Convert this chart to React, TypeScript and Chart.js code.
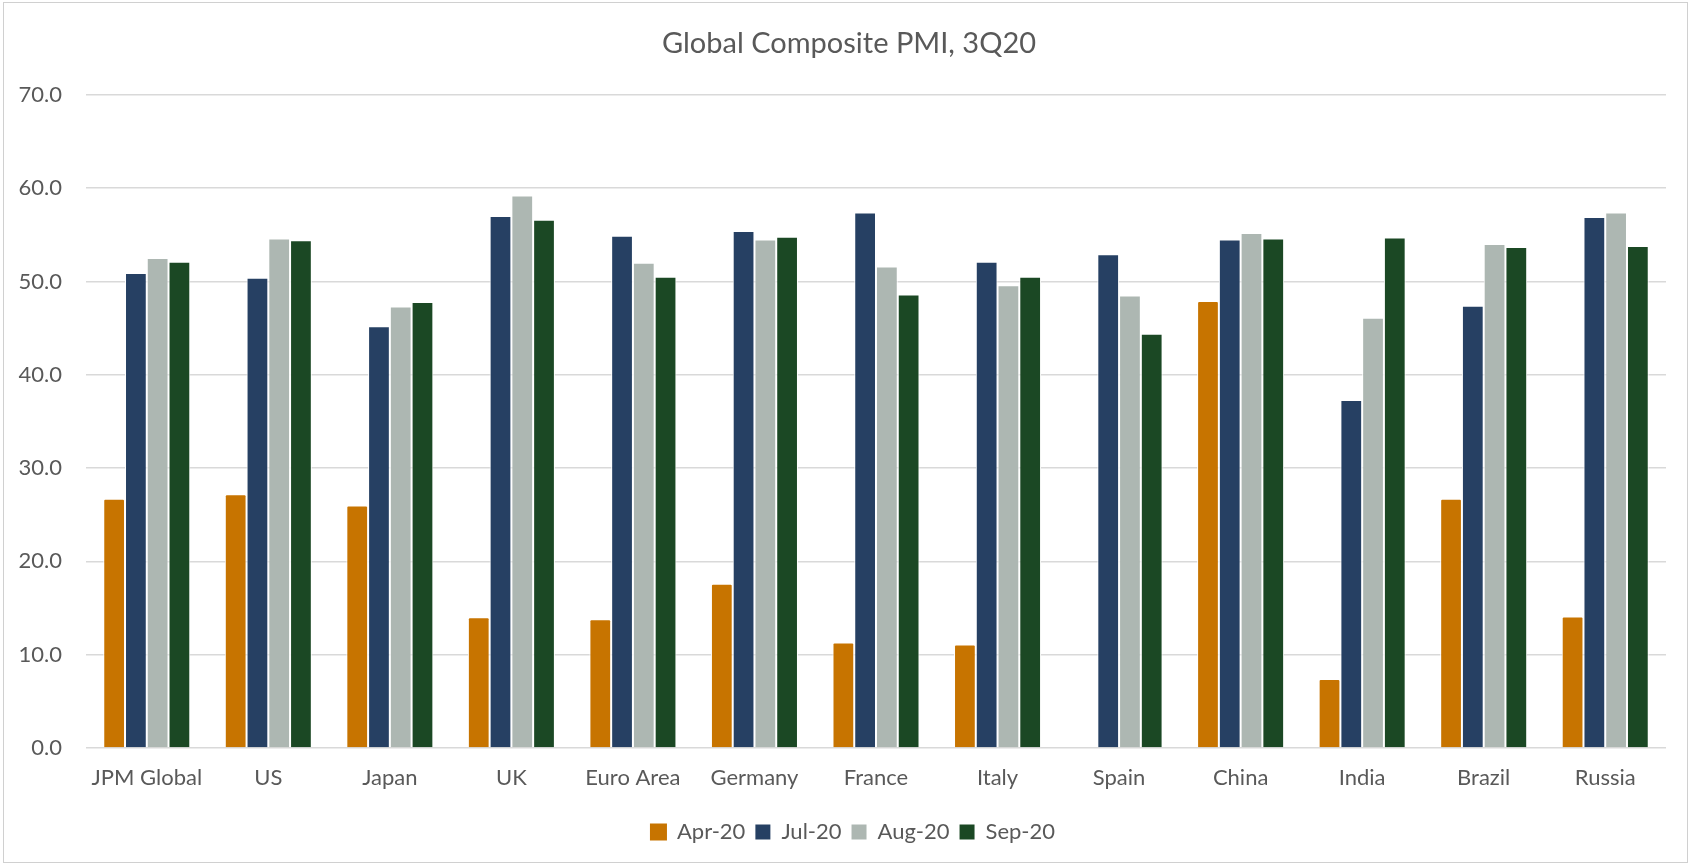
import React, { useEffect, useRef } from "react";
import { Chart, registerables } from "chart.js";

Chart.register(...registerables);

// Composite PMI readings by economy
const categories = [
  "JPM Global", "US", "Japan", "UK", "Euro Area", "Germany", "France",
  "Italy", "Spain", "China", "India", "Brazil", "Russia",
];

const apr20: (number | null)[] = [26.7, 27.2, 26.0, 14.0, 13.8, 17.6, 11.3, 11.1, null, 47.9, 7.4, 26.7, 14.1];
const jul20 = [50.9, 50.4, 45.2, 57.0, 54.9, 55.4, 57.4, 52.1, 52.9, 54.5, 37.3, 47.4, 56.9];
const aug20 = [52.5, 54.6, 47.3, 59.2, 52.0, 54.5, 51.6, 49.6, 48.5, 55.2, 46.1, 54.0, 57.4];
const sep20 = [52.1, 54.4, 47.8, 56.6, 50.5, 54.8, 48.6, 50.5, 44.4, 54.6, 54.7, 53.7, 53.8];

const seriesNames = ["Apr-20", "Jul-20", "Aug-20", "Sep-20"];
const seriesColors = ["#C77400", "#264063", "#ADB7B2", "#1B4824"];

const yTicks = [0, 10, 20, 30, 40, 50, 60, 70];

const TEXT = "#595959";
const GRID = "#D9D9D9";
const FONT = "Lato, 'Open Sans', sans-serif";

const W = 1683;
const H = 859;

// Nudges the title and legend sideways so they sit centred on the whole frame
// rather than on the padded layout box.
const centreBoxes = {
  id: "centreBoxes",
  afterLayout(chart: any) {
    if (chart.legend) {
      chart.legend.left += 14;
      chart.legend.right += 14;
    }
    if (chart.titleBlock) {
      chart.titleBlock.left += 10;
      chart.titleBlock.right += 10;
    }
  },
};

export default function App() {
  const canvasRef = useRef<HTMLCanvasElement | null>(null);

  useEffect(() => {
    if (!canvasRef.current) return;
    const values = [apr20, jul20, aug20, sep20];

    const chart = new Chart(canvasRef.current, {
      type: "bar",
      data: {
        labels: categories,
        datasets: seriesNames.map((name, i) => ({
          label: name,
          data: values[i],
          backgroundColor: seriesColors[i],
          borderColor: "#FFFFFF",
          borderWidth: 1,
          borderRadius: i === 0 ? { topLeft: 2, topRight: 2, bottomLeft: 0, bottomRight: 0 } : 0,
          categoryPercentage: 0.716,
          barPercentage: 1,
        })),
      },
      plugins: [centreBoxes],
      options: {
        responsive: false,
        animation: false,
        layout: { padding: { left: 8, right: 21, top: 0, bottom: 9 } },
        plugins: {
          title: {
            display: true,
            text: "Global Composite PMI, 3Q20",
            color: TEXT,
            font: { family: FONT, size: 29, weight: "normal" },
            padding: { top: 23, bottom: 34 },
          },
          legend: {
            position: "bottom",
            labels: {
              color: TEXT,
              font: { family: FONT, size: 22 },
              boxWidth: 15,
              boxHeight: 15,
              padding: 10,
              generateLabels: (c: any) => {
                const items = Chart.defaults.plugins.legend.labels.generateLabels(c);
                return items.map((it: any, i: number) => ({
                  ...it,
                  fillStyle: seriesColors[i],
                  strokeStyle: seriesColors[i],
                  lineWidth: i === 0 ? 2 : 0,
                }));
              },
            },
          },
          tooltip: { enabled: false },
        },
        scales: {
          x: {
            grid: { display: false, drawTicks: false },
            border: { display: false },
            ticks: {
              color: TEXT,
              font: { family: FONT, size: 22 },
              padding: 17,
              maxRotation: 0,
              autoSkip: false,
            },
            afterFit: (scale: any) => {
              scale.height = 63;
            },
          },
          y: {
            min: yTicks[0],
            max: yTicks[yTicks.length - 1],
            afterBuildTicks: (scale: any) => {
              scale.ticks = yTicks.map((v) => ({ value: v }));
            },
            grid: { color: GRID, lineWidth: 1.5, drawTicks: false },
            border: { display: false },
            ticks: {
              color: TEXT,
              font: { family: FONT, size: 22 },
              padding: 24,
              callback: (v: any) => Number(v).toFixed(1),
            },
            afterFit: (scale: any) => {
              scale.width = 74;
            },
          },
        },
      },
    });

    return () => chart.destroy();
  }, []);

  return (
    <div
      style={{
        position: "absolute",
        left: 3,
        top: 2,
        width: W + 2,
        height: H + 2,
        border: "1px solid #D0D0D0",
        boxSizing: "border-box",
        background: "#FFFFFF",
      }}
    >
      <canvas ref={canvasRef} width={W} height={H} style={{ display: "block", width: W, height: H }} />
    </div>
  );
}
